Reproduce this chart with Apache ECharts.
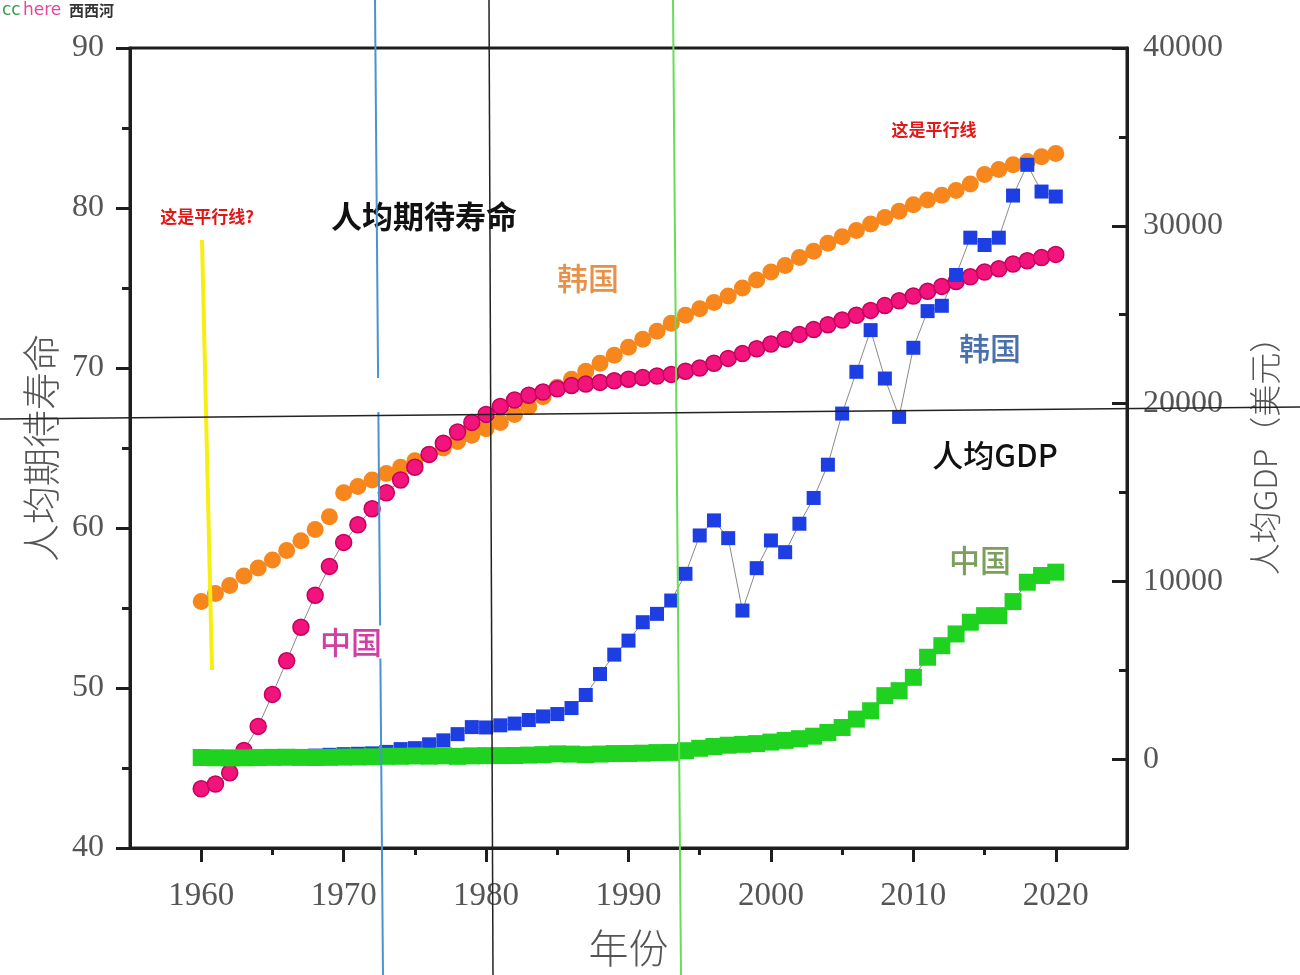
<!DOCTYPE html>
<html>
<head>
<meta charset="utf-8">
<script src="https://cdn.jsdelivr.net/npm/echarts@6/dist/echarts.min.js"></script>
<style>
html,body{margin:0;padding:0;background:#fff;}
#chart{width:1300px;height:975px;}
</style>
</head>
<body>
<div id="chart"></div>
<script>
// ---------- data ----------
const years = [1960,1961,1962,1963,1964,1965,1966,1967,1968,1969,
  1970,1971,1972,1973,1974,1975,1976,1977,1978,1979,
  1980,1981,1982,1983,1984,1985,1986,1987,1988,1989,
  1990,1991,1992,1993,1994,1995,1996,1997,1998,1999,
  2000,2001,2002,2003,2004,2005,2006,2007,2008,2009,
  2010,2011,2012,2013,2014,2015,2016,2017,2018,2019,2020];

// life expectancy (left axis)
const koreaLife = [55.4,55.9,56.4,57.0,57.5,58.0,58.6,59.2,59.9,60.7,
  62.2,62.6,63.0,63.4,63.8,64.2,64.6,65.0,65.4,65.8,
  66.2,66.6,67.1,67.6,68.2,68.8,69.3,69.8,70.3,70.8,
  71.3,71.8,72.3,72.8,73.3,73.7,74.1,74.5,75.0,75.5,
  76.0,76.4,76.9,77.3,77.8,78.2,78.6,79.0,79.4,79.8,
  80.2,80.5,80.8,81.1,81.5,82.1,82.4,82.7,82.9,83.2,83.4];
const chinaLife = [43.7,44.0,44.7,46.1,47.6,49.6,51.7,53.8,55.8,57.6,
  59.1,60.2,61.2,62.2,63.0,63.8,64.6,65.3,66.0,66.6,
  67.1,67.6,68.0,68.3,68.5,68.7,68.9,69.0,69.1,69.2,
  69.3,69.4,69.5,69.6,69.8,70.0,70.3,70.6,70.9,71.2,
  71.5,71.8,72.1,72.4,72.7,73.0,73.3,73.6,73.9,74.2,
  74.5,74.8,75.1,75.4,75.7,76.0,76.2,76.5,76.7,76.9,77.1];

// GDP per capita, USD (right axis)
const koreaGdp = [158,94,106,146,124,108,133,161,198,243,
  279,301,324,406,563,617,834,1055,1405,1800,
  1780,1900,2000,2200,2400,2535,2873,3606,4789,5877,
  6665,7700,8170,8920,10423,12580,13427,12430,8357,10740,
  12300,11640,13240,14690,16560,19437,21785,24131,21408,19250,
  23137,25200,25500,27230,29330,28920,29330,31700,33430,31925,31645];
const chinaGdp = [90,76,70,74,85,98,104,97,91,100,
  113,119,132,157,160,178,165,185,156,184,
  195,197,203,225,251,294,282,251,284,311,
  318,333,367,377,473,610,709,782,829,873,
  959,1053,1149,1289,1500,1780,2250,2720,3570,3850,
  4600,5730,6380,7040,7700,8070,8070,8860,9950,10330,10516];

// axis ticks / labels
const xLabelYears = [1960,1970,1980,1990,2000,2010,2020];
const xMinorYears = [1965,1975,1985,1995,2005,2015];
const gdpLabels = [0,10000,20000,30000,40000];
const gdpMinor = [5000,15000,25000,35000];

// ---------- chart ----------
const pair = (xs, ys) => xs.map((x, i) => [x, ys[i]]);
const plain = v => String(v);
const chart = echarts.init(document.getElementById('chart'));
const AX = '#1e1e1e';
const LBL = '#555';
const serif = '"Liberation Serif","DejaVu Serif",serif';
const cjk = '"Noto Sans CJK SC","Noto Sans",sans-serif';

const option = {
  animation: false,
  backgroundColor: '#fff',
  grid: {left:130, right:173, top:48, bottom:127, show:true, borderColor:AX, borderWidth:3, backgroundColor:'transparent'},
  xAxis: [
    {type:'value', min:1955, max:2025, interval:5, position:'bottom',
     axisLine:{show:true, onZero:false, lineStyle:{color:AX, width:3}},
     axisTick:{show:true, customValues:xLabelYears, length:14, lineStyle:{color:AX, width:3}},
     axisLabel:{customValues:xLabelYears, formatter:plain, fontFamily:serif, fontSize:33, color:LBL, margin:32},
     splitLine:{show:false},
     name:'年份', nameLocation:'middle', nameGap:80,
     nameTextStyle:{fontFamily:cjk, fontSize:40, color:LBL, fontWeight:300}},
    {type:'value', min:1955, max:2025, interval:5, position:'bottom',
     axisLine:{show:false, onZero:false},
     axisTick:{show:true, customValues:xMinorYears, length:7, lineStyle:{color:AX, width:3}},
     axisLabel:{show:false}, splitLine:{show:false}}
  ],
  yAxis: [
    {type:'value', min:40, max:90, interval:10, position:'left',
     axisLine:{show:true, onZero:false, lineStyle:{color:AX, width:3}},
     axisTick:{show:true, length:14, lineStyle:{color:AX, width:3}},
     minorTick:{show:true, splitNumber:2, length:8, lineStyle:{color:AX, width:3}},
     axisLabel:{formatter:plain, fontFamily:serif, fontSize:32, color:LBL, margin:26},
     splitLine:{show:false},
     name:'人均期待寿命', nameLocation:'middle', nameRotate:90, nameGap:70,
     nameTextStyle:{fontFamily:cjk, fontSize:38, color:LBL, fontWeight:300}},
    {type:'value', min:-5000, max:40000, interval:5000, position:'right',
     axisLine:{show:true, onZero:false, lineStyle:{color:AX, width:3}},
     axisTick:{show:true, inside:true, customValues:gdpLabels, length:15, lineStyle:{color:AX, width:3}},
     axisLabel:{customValues:gdpLabels, formatter:plain, fontFamily:serif, fontSize:32, color:LBL, margin:16},
     splitLine:{show:false},
     name:'人均GDP（美元）', nameLocation:'middle', nameRotate:90, nameGap:122,
     nameTextStyle:{fontFamily:cjk, fontSize:32, color:LBL, fontWeight:300}},
    {type:'value', min:-5000, max:40000, interval:5000, position:'right',
     axisLine:{show:false, onZero:false},
     axisTick:{show:true, inside:true, customValues:gdpMinor, length:8, lineStyle:{color:AX, width:3}},
     axisLabel:{show:false}, splitLine:{show:false}}
  ],
  series: [
    {name:'韩国寿命', type:'line', xAxisIndex:0, yAxisIndex:0, data:pair(years, koreaLife),
     symbol:'circle', symbolSize:17, showSymbol:true, showAllSymbol:true,
     itemStyle:{color:'#f7871c'}, lineStyle:{width:0, opacity:0}},
    {name:'中国寿命', type:'line', xAxisIndex:0, yAxisIndex:0, data:pair(years, chinaLife),
     symbol:'circle', symbolSize:16, showSymbol:true, showAllSymbol:true,
     itemStyle:{color:'#f2137c', borderColor:'#c4005c', borderWidth:1.5},
     lineStyle:{color:'#8a8a8a', width:1}},
    {name:'韩国GDP', type:'line', xAxisIndex:0, yAxisIndex:1, data:pair(years, koreaGdp),
     symbol:'rect', symbolSize:14, showSymbol:true, showAllSymbol:true,
     itemStyle:{color:'#1c3ee2'}, lineStyle:{color:'#8a8a8a', width:1}},
    {name:'中国GDP', type:'line', xAxisIndex:0, yAxisIndex:1, data:pair(years, chinaGdp),
     symbol:'rect', symbolSize:17, showSymbol:true, showAllSymbol:true,
     itemStyle:{color:'#1fd21f'}, lineStyle:{color:'#8a8a8a', width:1}}
  ],
  graphic: [
    // watermark
    {type:'text', x:2, y:2, z:120, style:{text:'cc', fill:'#2f9c4a', font:'17px "DejaVu Sans",sans-serif'}},
    {type:'text', x:23, y:2, z:120, style:{text:'here', fill:'#e2479c', font:'17px "DejaVu Sans",sans-serif'}},
    {type:'text', x:69, y:3, z:120, style:{text:'西西河', fill:'#333', font:'bold 15px "Noto Sans CJK SC",sans-serif'}},
    // annotations inside chart
    {type:'text', x:424, y:216, z:50, style:{text:'人均期待寿命', fill:'#111', font:'bold 31px "Noto Sans CJK SC",sans-serif', align:'center', verticalAlign:'middle'}},
    {type:'text', x:588, y:278, z:50, style:{text:'韩国', fill:'#e89048', font:'500 31px "Noto Sans CJK SC",sans-serif', align:'center', verticalAlign:'middle'}},
    {type:'text', x:990, y:348, z:50, style:{text:'韩国', fill:'#4b70ae', font:'500 31px "Noto Sans CJK SC",sans-serif', align:'center', verticalAlign:'middle'}},
    {type:'text', x:995, y:455, z:50, style:{text:'人均GDP', fill:'#111', font:'500 31px "Noto Sans CJK SC",sans-serif', align:'center', verticalAlign:'middle'}},
    {type:'text', x:980, y:560, z:50, style:{text:'中国', fill:'#7d9f5c', font:'500 31px "Noto Sans CJK SC",sans-serif', align:'center', verticalAlign:'middle'}},
    {type:'text', x:207, y:217, z:50, style:{text:'这是平行线?', fill:'#e01818', font:'bold 17px "Noto Sans CJK SC",sans-serif', align:'center', verticalAlign:'middle'}},
    {type:'text', x:934, y:130, z:50, style:{text:'这是平行线', fill:'#e01818', font:'bold 17px "Noto Sans CJK SC",sans-serif', align:'center', verticalAlign:'middle'}},
    // overlay lines
    {type:'line', z:100, shape:{x1:202, y1:240, x2:212, y2:670}, style:{stroke:'#f7ee12', lineWidth:4}},
    {type:'line', z:100, shape:{x1:375, y1:0, x2:383, y2:975}, style:{stroke:'#4b92d2', lineWidth:2}},
    {type:'line', z:100, shape:{x1:489, y1:0, x2:493, y2:975}, style:{stroke:'#222', lineWidth:1.5}},
    {type:'line', z:100, shape:{x1:673, y1:0, x2:681, y2:975}, style:{stroke:'#66dd55', lineWidth:2}},
    {type:'line', z:100, shape:{x1:0, y1:419, x2:1300, y2:407}, style:{stroke:'#222', lineWidth:1.5}},
    // white patch covering part of the blue line
    {type:'rect', z:101, shape:{x:352, y:378, width:56, height:34}, style:{fill:'#fff'}},
    // pink label with white box (over blue line)
    {type:'text', x:352, y:642, z:102, style:{text:'中国', fill:'#d13fa3', font:'500 31px "Noto Sans CJK SC",sans-serif', align:'center', verticalAlign:'middle', backgroundColor:'#fff', padding:[1,6,1,4]}}
  ]
};
chart.setOption(option);
</script>
</body>
</html>
